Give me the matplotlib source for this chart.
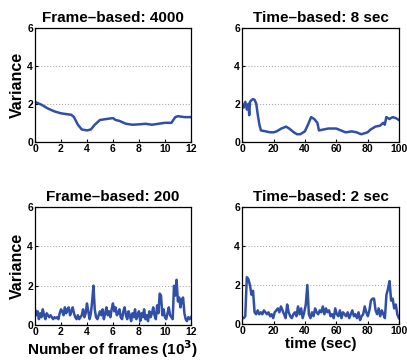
import numpy as np
import matplotlib
matplotlib.use("Agg")
import matplotlib.pyplot as plt

plt.rcParams['font.family'] = ['Liberation Sans', 'DejaVu Sans']
plt.rcParams['font.weight'] = 'bold'

# Frame-based: 4000 (x in 10^3 frames)
fb4000_x = [0, 0.5, 1, 1.5, 2, 2.5, 2.8, 3.0, 3.3, 3.6, 4.0, 4.3, 4.6, 5.0, 5.5, 6.0, 6.2,
            6.5, 7.0, 7.5, 8.0, 8.5, 9.0, 9.5, 10, 10.5, 10.8, 11, 11.5, 12]
fb4000_y = [2.1, 1.95, 1.75, 1.6, 1.5, 1.45, 1.42, 1.3, 0.9, 0.65, 0.6, 0.65, 0.9, 1.15, 1.2,
            1.25, 1.15, 1.1, 0.95, 0.9, 0.92, 0.95, 0.9, 0.95, 1.0, 1.0, 1.3, 1.35, 1.3, 1.3]

# Time-based: 8 sec
tb8_x = [0, 1, 2, 3, 4, 4.5, 5, 6, 7, 8, 9, 10, 11, 12, 15, 18, 20, 22, 25, 28, 30, 33, 35,
         37, 40, 42, 44, 46, 48, 49, 52, 55, 60, 63, 66, 70, 73, 76, 78, 80, 82, 85, 88, 90,
         91, 92, 94, 96, 98, 100]
tb8_y = [2.0, 1.8, 2.1, 1.7, 2.0, 1.4, 2.1, 2.2, 2.25, 2.2, 2.0, 1.4, 0.9, 0.6, 0.55, 0.5,
         0.5, 0.55, 0.7, 0.8, 0.7, 0.5, 0.4, 0.4, 0.55, 0.9, 1.3, 1.2, 1.0, 0.6, 0.65, 0.7,
         0.7, 0.6, 0.5, 0.55, 0.5, 0.4, 0.45, 0.5, 0.65, 0.8, 0.85, 1.0, 0.9, 1.3, 1.2, 1.3,
         1.25, 1.15]

# Frame-based: 200 (x = 0, 0.1, ..., 12)
fb200_y = [0.8, 0.5, 0.7, 0.3, 0.6, 0.4, 0.8, 0.5, 0.3, 0.6, 0.5,
           0.4, 0.5, 0.4, 0.3, 0.4, 0.35, 0.4, 0.3, 0.6, 0.8,
           0.7, 0.5, 0.9, 0.6, 0.8, 0.9, 0.5, 0.7, 0.9, 0.6,
           0.4, 0.3, 0.5, 0.3, 0.4, 0.5, 0.8, 0.4, 0.6, 1.1,
           0.7, 0.3, 0.6, 1.2, 2.0, 0.8, 0.4, 0.3, 0.5, 0.7,
           0.5, 0.8, 0.3, 0.6, 0.9, 0.5, 0.7, 0.4, 0.8, 1.1,
           0.7, 0.9, 0.5, 0.6, 0.8, 0.4, 0.3, 0.7, 0.9, 0.5,
           0.3, 0.7, 0.5, 0.2, 0.6, 0.4, 0.8, 0.3, 0.5, 0.7,
           0.2, 0.6, 0.4, 0.8, 0.3, 0.5, 0.2, 0.7, 0.4, 0.6,
           0.9, 0.5, 0.3, 1.0, 0.6, 1.6, 1.5, 0.5, 0.8, 0.4,
           0.3, 0.6, 0.9, 0.5, 0.4, 0.3, 2.0, 1.5, 2.3, 1.2,
           1.4, 0.9, 1.3, 1.4, 0.6, 0.3, 0.2, 0.4, 0.3, 0.4]
fb200_x = np.linspace(0, 12, len(fb200_y))

# Time-based: 2 sec (x = 0..100 sec)
tb2_y = [0.3, 0.3, 0.4, 2.4, 2.3, 2.0, 1.5, 1.7, 0.6, 0.5, 0.7,
         0.5, 0.6, 0.5, 0.7, 0.6, 0.5, 0.6, 0.4, 0.5, 0.3,
         0.6, 0.7, 0.8, 0.6, 0.9, 0.7, 0.5, 0.3, 1.0, 0.6,
         0.4, 0.3, 0.5, 0.6, 0.4, 0.9, 0.5, 0.8, 0.3, 0.6,
         1.0, 2.0, 0.5, 0.3, 0.6, 0.4, 0.8, 0.6, 0.5, 0.7,
         0.6, 0.9, 0.5, 0.8, 0.6, 0.7, 0.4, 0.5, 0.3, 0.8,
         0.5, 0.4, 0.7, 0.3, 0.6, 0.5, 0.4, 0.6, 0.3, 0.5,
         0.7, 0.4, 0.5, 0.3, 0.6, 0.2, 0.4, 0.5, 0.9, 0.6,
         0.4, 0.7, 1.2, 1.3, 1.3, 0.7, 0.5, 0.8, 0.4, 0.7,
         0.5, 0.3, 1.5, 1.8, 2.2, 1.2, 1.3, 0.8, 1.0, 0.5, 0.3]
tb2_x = np.linspace(0, 100, len(tb2_y))

line_color = '#2f4fa8'

fig = plt.figure(figsize=(4.07, 3.6), dpi=100)

panels = [
    ([0.086, 0.606, 0.383, 0.317], fb4000_x, fb4000_y, 'Frame–based: 4000', 12, [0, 2, 4, 6, 8, 10, 12], True, None),
    ([0.595, 0.606, 0.385, 0.317], tb8_x, tb8_y, 'Time–based: 8 sec', 100, [0, 20, 40, 60, 80, 100], False, None),
    ([0.086, 0.097, 0.383, 0.328], fb200_x, fb200_y, 'Frame–based: 200', 12, [0, 2, 4, 6, 8, 10, 12], True, 'Number of frames (10$^\\mathbf{3}$)'),
    ([0.595, 0.100, 0.385, 0.325], tb2_x, tb2_y, 'Time–based: 2 sec', 100, [0, 20, 40, 60, 80, 100], False, 'time (sec)'),
]

for rect, x, y, title, xmax, xticks, ylab, xlab in panels:
    ax = fig.add_axes(rect)
    ax.plot(x, y, color=line_color, lw=1.8)
    ax.set_xlim(0, xmax)
    ax.set_ylim(0, 6)
    ax.set_xticks(xticks)
    ax.set_yticks([0, 2, 4, 6])
    ax.tick_params(direction='in', length=2.5, labelsize=7.5, pad=1.5)
    for lbl in ax.get_xticklabels() + ax.get_yticklabels():
        lbl.set_fontweight('bold')
    for sp in ax.spines.values():
        sp.set_linewidth(0.9)
    ax.yaxis.grid(True, linestyle=':', color='#aaaaaa', lw=0.8)
    ax.set_title(title, fontsize=11, fontweight='bold', pad=4)
    if ylab:
        ax.set_ylabel('Variance', fontsize=11.5, fontweight='bold', labelpad=2)
    if xlab:
        ax.set_xlabel(xlab, fontsize=11, fontweight='bold', labelpad=1)

fig.savefig('out.png', dpi=100)
